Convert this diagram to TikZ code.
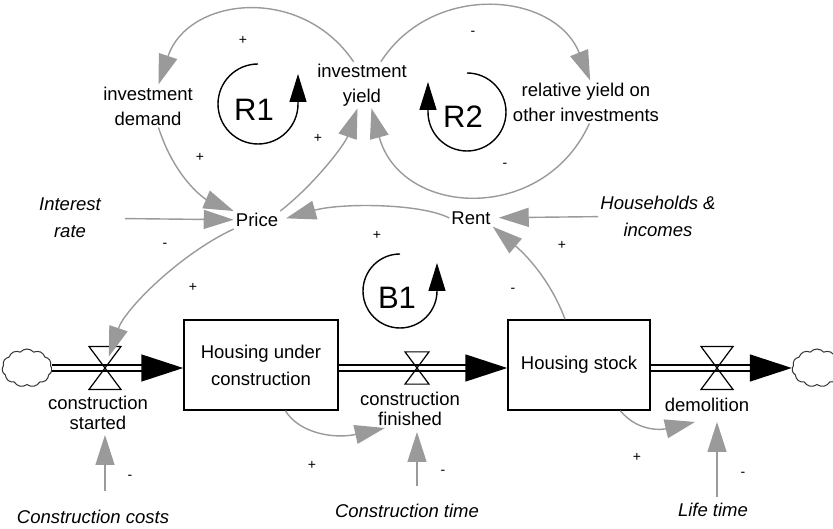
\documentclass[tikz,border=0pt]{standalone}
\usepackage{fontspec}
\setmainfont{Liberation Sans}
\usetikzlibrary{arrows.meta,shapes.symbols,calc}
\definecolor{linkgray}{HTML}{9A9A9A}
\tikzset{
    level-box/.style = {draw=black, line width=1.5pt, rectangle, minimum width=154pt, minimum height=90pt, align=center, font=\fontsize{18.5}{27}\selectfont},
    flow-pipe/.style = {draw=black, line width=1.6pt, double=white, double distance=4.5pt, -{Triangle[length=42pt, width=27pt]}},
    cloud-src/.style = {cloud, cloud puffs=11, cloud puff arc=100, draw=black!80, line width=1pt, minimum width=50pt, minimum height=38pt, inner sep=0pt},
    flow-label/.style = {align=center, inner sep=2pt, font=\fontsize{18.5}{20}\selectfont},
    var-label/.style = {align=center, inner sep=2pt, font=\fontsize{18.5}{25}\selectfont},
    ext-label/.style = {align=center, inner sep=2pt, font=\fontsize{18.5}{27}\selectfont\itshape},
    sign-label/.style = {inner sep=1pt, font=\fontsize{14}{14}\selectfont},
    loop-text/.style = {inner sep=0pt, font=\fontsize{31}{31}\selectfont},
    loop-arc/.style = {draw=black, line width=1.4pt, -{Triangle[length=28pt, width=17pt]}},
    link/.style = {draw=linkgray, line width=1.4pt, -{Triangle[length=30pt, width=19pt]}},
    valve/.pic = {\draw[line width=1.2pt] (-16,21.5) -- (16,21.5) -- (-16,-21.5) -- (16,-21.5) -- cycle;},
}

\begin{document}
\begin{tikzpicture}[x=1pt, y=1pt]
\useasboundingbox (0,0) rectangle (833,529);

% stocks, flows and valves
\node[level-box] (box1) at (261,164) {Housing under\\construction};
\node[level-box, minimum width=142pt] (box2) at (579,164) {Housing stock};
\node[cloud-src] (cloudL) at (27,161) {};
\node[cloud-src] (cloudR) at (817,161) {};
\coordinate (v1) at (105,161);
\coordinate (v2) at (417,161);
\coordinate (v3) at (717,161);

\draw[flow-pipe] (cloudL.east) -- (cloudL.east -| box1.west);
\draw[flow-pipe] (box1.east |- v2) -- (v2 -| box2.west);
\draw[flow-pipe] (box2.east |- v3) -- (v3 -| cloudR.west);
\pic at (v1) {valve};
\pic[scale=.75] at (v2) {valve};
\pic at (v3) {valve};

\node[flow-label] (cstart) at (98,116) {construction\\started};
\node[flow-label] (cfin) at (410,120) {construction\\finished};
\node[flow-label] (demol) at (707,124) {demolition};

% auxiliaries
\node[var-label] (price) at (257,309) {Price};
\node[var-label] (rent) at (471,311) {Rent};
\node[var-label] (invd) at (148,423) {investment\\demand};
\node[var-label] (invy) at (362,444) {investment\\yield};
\node[var-label] (rely) at (586,427) {relative yield on\\other investments};

\node[ext-label] (irate) at (70,311) {Interest\\rate};
\node[ext-label] (hh) at (658,313) {Households \&\\incomes};
\node[ext-label] (ccost) at (93,12) {Construction costs};
\node[ext-label] (ctime) at (407,18) {Construction time};
\node[ext-label] (ltime) at (713,19) {Life time};

% causal links
\draw[link, shorten <=22pt] (irate) -- (price);
\draw[link, shorten >=6pt] (hh) -- (rent);
\draw[link] (invd.-64) .. controls (175,350) and (205,330) .. (price.north west);
\draw[link] (price.north east) .. controls (315,345) and (345,385) .. (invy.-101);
\draw[link] (rely.-81) .. controls (543,304) and (401,312) .. (invy.-68);
\draw[link] (invy.51) .. controls (433,548) and (555,537) .. (rely.79);
\draw[link] (invy.110) .. controls (301,545) and (188,532) .. (invd.64);
\draw[link, shorten >=6pt] (rent.west) .. controls (420,326) and (340,326) .. (price.east);
\draw[link, shorten >=12pt] (price.south west) .. controls (180,275) and (125,220) .. (v1);
\draw[link] (box2.107) .. controls (550,250) and (525,275) .. (rent.south east);
\draw[link] (box1.-62) .. controls (300,95) and (335,90) .. (cfin.-143);
\draw[link] (box2.-48) .. controls (640,95) and (665,100) .. ($(demol.south)+(-12,-8)$);
\draw[link] ($(ccost.north -| v1)+(0,17)$) -- ($(cstart.south -| v1)+(0,-3)$);
\draw[link] ($(ctime.north -| v2)+(0,16)$) -- ($(cfin.south -| v2)+(0,-4)$);
\draw[link] ($(ltime.north -| v3)+(0,4)$) -- ($(demol.south -| v3)+(0,-8)$);

% loop markers
\node[loop-text] (r1) at (254,419) {R1};
\node[loop-text] (r2) at (463,412) {R2};
\node[loop-text] (b1) at (397,231) {B1};
\draw[loop-arc] (258,465) arc[start angle=90, end angle=360, radius=40] -- ++(0,30);
\draw[loop-arc] (467,456) arc[start angle=90, end angle=-180, radius=39] -- ++(0,30);
\draw[loop-arc] (400,275) arc[start angle=90, end angle=360, radius=37] -- ++(0,28);

% polarities
\foreach \x/\y/\s [count=\i] in {243/489/+, 200/372/+, 318/391/+, 473/496/-, 505/364/-,
    377/294/+, 165/284/-, 193/242/+, 513/239/-, 562/284/+, 312/64/+, 637/72/+,
    130/52/-, 443/57/-, 743/55/-}
  \node[sign-label] (sign\i) at (\x,\y) {\s};
\end{tikzpicture}
\end{document}
